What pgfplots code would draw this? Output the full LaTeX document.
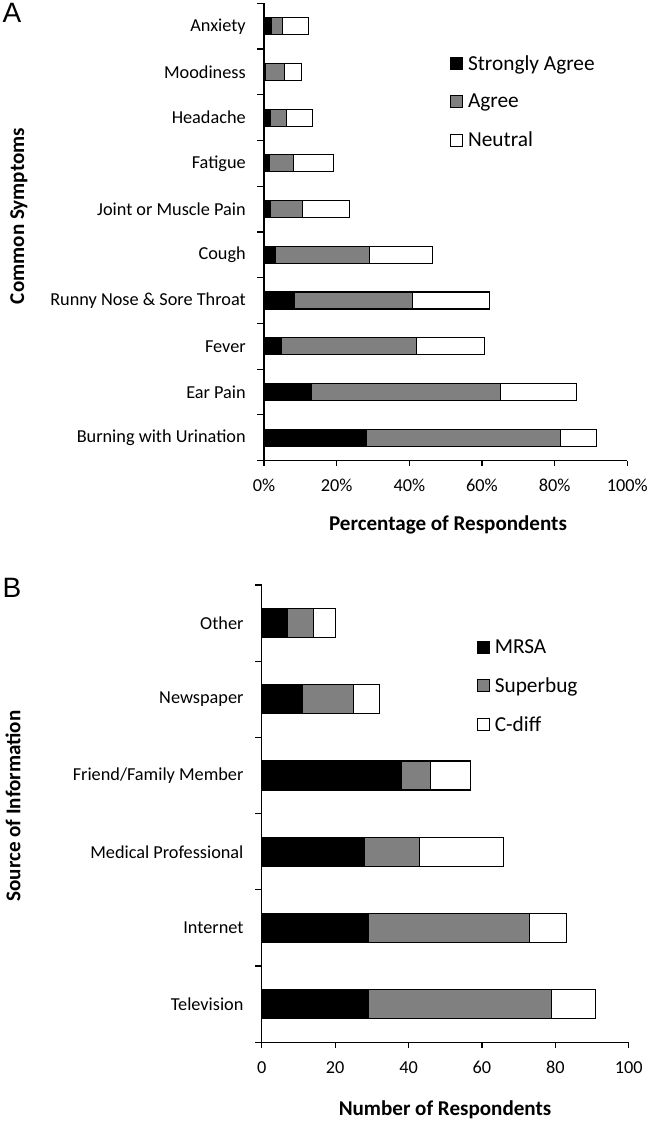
\documentclass[border=0pt]{standalone}
\usepackage{fontspec}
\setmainfont{Carlito}
\newfontfamily\arialfont{Liberation Sans}
\usepackage{pgfplots}
\usepackage{pgfplotstable}
\pgfplotsset{compat=1.18}
\definecolor{bargray}{RGB}{128,128,128}

\pgfplotstableread{
y sa ag ne
0 28.1 53.5 10.0
1 13.1 52.0 21.0
2 4.9 37.0 18.9
3 8.3 32.6 21.2
4 3.1 26.0 17.3
5 1.7 9.0 12.9
6 1.6 6.6 11.0
7 1.7 4.6 7.1
8 0.4 5.2 4.8
9 2.1 3.1 7.1
}\symptoms

\pgfplotstableread{
y mrsa superbug cdiff
0 29 50 12
1 29 44 10
2 28 15 23
3 38 8 11
4 11 14 7
5 7 7 6
}\sources

\begin{document}
\begin{tikzpicture}
\useasboundingbox (0,0) rectangle (487.5pt,-840.75pt);
\pgfplotsset{
 common/.style={
  scale only axis,
  xbar stacked,
  axis lines*=left,
  axis line style={line width=0.9pt, -},
  tick align=outside,
  xmin=0, xmax=100,
  xtick={0,20,...,100},
  major x tick style={line width=0.9pt, black},
  major tick length=4pt,
  major y tick style={draw=none},
  minor y tick style={line width=0.9pt, black},
  minor tick length=5pt,
  /pgf/number format/assume math mode=true,
  ticklabel style={font=\fontsize{13.7}{16}\selectfont},
  yticklabel style={inner sep=0pt, xshift=-9.5pt},
  xticklabel style={inner sep=0pt, yshift=-10pt},
  every axis plot/.append style={draw=black, line width=0.8pt},
  legend style={draw=none, fill=none, inner sep=0pt, anchor=north west,
    font=\fontsize{16}{19}\selectfont, row sep=14.5pt,
    nodes={inner ysep=1pt, inner xsep=3.5pt}},
  legend image code/.code={\draw[#1, line width=0.8pt] (0pt,-4.5pt) rectangle (9pt,4.5pt);},
  legend cell align=left,
 }
}
% Panel A
\begin{axis}[common,
  at={(198pt,-345.4pt)}, anchor=south west,
  width=272.5pt, height=342.9pt,
  ymin=-0.5, ymax=9.5,
  bar width=12.75pt,
  ytick={0,...,9},
  yticklabels={Burning with Urination, Ear Pain, Fever, Runny Nose \& Sore Throat, Cough, Joint or Muscle Pain, Fatigue, Headache, Moodiness, Anxiety},
  minor ytick={-0.5,0.5,...,9.5},
  xticklabel={\pgfmathprintnumber{\tick}\%},
  legend style={at={(rel axis cs:0.512,0.890)}},
]
\addplot[fill=black] table[x=sa, y=y] {\symptoms};
\addplot[fill=bargray] table[x=ag, y=y] {\symptoms};
\addplot[fill=white] table[x=ne, y=y] {\symptoms};
\legend{Strongly Agree, Agree, Neutral}
\end{axis}
% Panel B
\begin{axis}[common,
  at={(196.3pt,-781.7pt)}, anchor=south west,
  width=275.25pt, height=343pt,
  ymin=-0.5, ymax=5.5,
  bar width=21.75pt,
  ytick={0,...,5},
  yticklabels={Television, Internet, Medical Professional, Friend/Family Member, Newspaper, Other},
  minor ytick={-0.5,0.5,...,5.5},
  legend style={at={(rel axis cs:0.586,0.884)}},
]
\addplot[fill=black] table[x=mrsa, y=y] {\sources};
\addplot[fill=bargray] table[x=superbug, y=y] {\sources};
\addplot[fill=white] table[x=cdiff, y=y] {\sources};
\legend{MRSA, Superbug, C-diff}
\end{axis}
% Labels
\node[font=\arialfont\fontsize{21}{24}\selectfont] at (9pt,-9.75pt) {A};
\node[font=\arialfont\fontsize{21}{24}\selectfont] at (9pt,-441pt) {B};
\node[font=\bfseries\fontsize{15.8}{18}\selectfont, rotate=90, anchor=north, inner sep=0pt] at (7.5pt,-162pt) {Common Symptoms};
\node[font=\bfseries\fontsize{15.8}{18}\selectfont, rotate=90, anchor=north, inner sep=0pt] at (4pt,-604.5pt) {Source of Information};
\node[font=\bfseries\fontsize{15.8}{18}\selectfont] at (336pt,-393.75pt) {Percentage of Respondents};
\node[font=\bfseries\fontsize{15.8}{18}\selectfont] at (333.75pt,-832.5pt) {Number of Respondents};
\end{tikzpicture}
\end{document}
